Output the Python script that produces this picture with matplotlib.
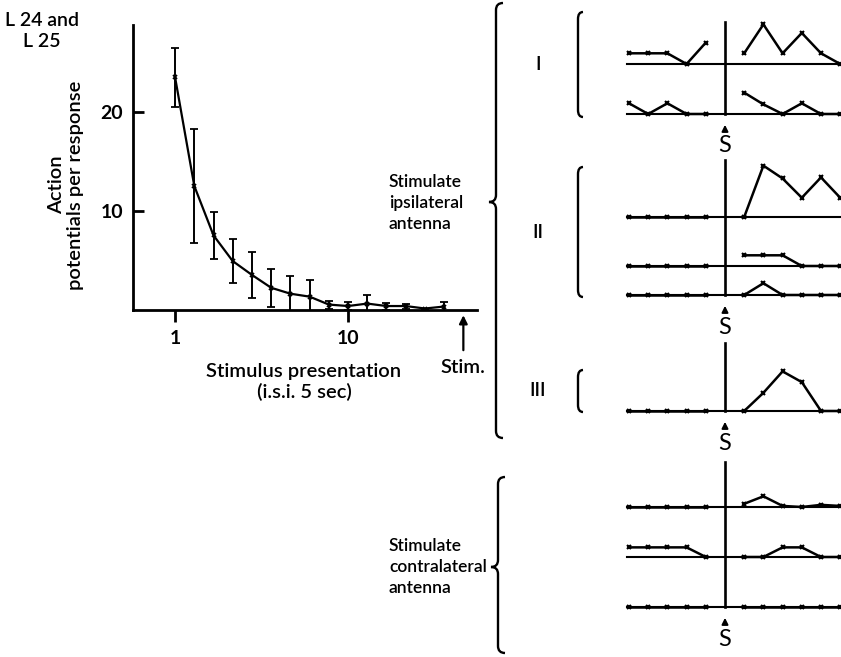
import matplotlib
matplotlib.use("Agg")
import matplotlib.pyplot as plt
from matplotlib.path import Path
from matplotlib.patches import PathPatch

plt.rcParams['font.family'] = ['Lato', 'DejaVu Sans']
plt.rcParams['font.weight'] = 'semibold'

# main graph: habituation of L24/L25 response
presentation = list(range(1, 16))
ap_mean = [23.5, 12.5, 7.5, 4.9, 3.5, 2.2, 1.6, 1.3, 0.5, 0.35, 0.6, 0.35, 0.35, 0.1, 0.3]
ap_err = [3.0, 5.8, 2.4, 2.2, 2.3, 1.9, 1.8, 1.7, 0.4, 0.45, 0.9, 0.35, 0.25, 0.0, 0.5]
stim_at = 16

# small traces: 5 presentations before S, 6 after
pre_x = [-5, -4, -3, -2, -1]
post_x = [1, 2, 3, 4, 5, 6]

ipsi_I_pre = [[1, 1, 1, 0, 2], [1, 0, 1, 0, 0]]
ipsi_I_post = [[1, 3.7, 1, 2.9, 1, 0], [2, 0.9, 0, 1, 0, 0]]
ipsi_II_pre = [[0, 0, 0, 0, 0], [0, 0, 0, 0, 0], [0, 0, 0, 0, 0]]
ipsi_II_post = [[0, 4.8, 3.6, 1.8, 3.7, 1.8], [1, 1, 1, 0, 0, 0], [0, 1.1, 0, 0, 0, 0]]
ipsi_III_pre = [[0, 0, 0, 0, 0]]
ipsi_III_post = [[0, 1.7, 3.7, 2.7, 0, 0]]
contra_pre = [[0, 0, 0, 0, 0], [0.9, 0.9, 0.9, 0.9, 0], [0, 0, 0, 0, 0]]
contra_post = [[0.3, 1.0, 0.1, 0, 0.2, 0.1], [0, 0, 0.9, 0.9, 0, 0], [0, 0, 0, 0, 0, 0]]

W, H = 841, 657
fig = plt.figure(figsize=(W / 100, H / 100), dpi=100)


def ftext(x, y, s, **kw):
    fig.text(x / W, 1 - y / H, s, **kw)


# ---- main axes
ax = fig.add_axes([133 / W, 1 - 309.5 / H, (477 - 133) / W, (309.5 - 25) / H])
ax.set_facecolor('none')
ax.errorbar(presentation, ap_mean, yerr=ap_err, color='k', lw=1.6,
            marker='x', ms=3.5, mew=1.3, capsize=3, elinewidth=1.4, capthick=1.4)
ax.set_xlim(-1.19, 16.71)
ax.set_ylim(0, 28.8)
for s in ['top', 'right']:
    ax.spines[s].set_visible(False)
for s in ['left', 'bottom']:
    ax.spines[s].set_linewidth(2)
ax.set_yticks([10, 20])
ax.set_xticks([1, 10])
ax.tick_params(axis='y', direction='in', length=8, width=2, pad=7, labelsize=14)
ax.tick_params(axis='x', direction='out', length=8.5, width=2, pad=6, labelsize=14)
for lab in ax.get_xticklabels() + ax.get_yticklabels():
    lab.set_fontweight('bold')
ax.annotate('', xy=(stim_at, -0.3), xytext=(stim_at, -4.4), annotation_clip=False,
            arrowprops=dict(arrowstyle='-|>', color='k', lw=1.6, mutation_scale=12))
ax.text(stim_at, -5.9, 'Stim.', ha='center', va='center', fontsize=14.5, clip_on=False)

ftext(304, 382, 'Stimulus presentation\n(i.s.i. 5 sec)', ha='center', va='center',
      fontsize=14.5, linespacing=1.25)
ftext(66, 185, 'Action\npotentials per response', rotation=90, ha='center', va='center',
      fontsize=14.5, linespacing=1.2)
ftext(42, 31, 'L 24 and\nL 25', ha='center', va='center', fontsize=14, linespacing=1.3)

# ---- overlay for braces and labels
ov = fig.add_axes([0, 0, 1, 1], zorder=-1)
ov.set_xlim(0, W)
ov.set_ylim(H, 0)
ov.axis('off')


def brace(x, top, mid, bot, w=7):
    v = [(x + w, top), (x, top), (x, top + w), (x, mid - w), (x, mid), (x - w, mid),
         (x, mid), (x, mid + w), (x, bot - w), (x, bot), (x + w, bot)]
    c = [Path.MOVETO, Path.CURVE3, Path.CURVE3, Path.LINETO, Path.CURVE3, Path.CURVE3,
         Path.CURVE3, Path.CURVE3, Path.LINETO, Path.CURVE3, Path.CURVE3]
    ov.add_patch(PathPatch(Path(v, c), fill=False, lw=1.7, color='k'))


def paren(x, top, bot, w=5):
    v = [(x + w, top), (x, top), (x, top + 7), (x, bot - 7), (x, bot), (x + w, bot)]
    c = [Path.MOVETO, Path.CURVE3, Path.CURVE3, Path.LINETO, Path.CURVE3, Path.CURVE3]
    ov.add_patch(PathPatch(Path(v, c), fill=False, lw=1.7, color='k'))


brace(496, 3, 202, 438)
brace(498, 477, 567, 653)
ov.text(389, 203, 'Stimulate\nipsilateral\nantenna', ha='left', va='center',
        fontsize=12.5, linespacing=1.35)
ov.text(389, 567, 'Stimulate\ncontralateral\nantenna', ha='left', va='center',
        fontsize=12.5, linespacing=1.35)

for lab, top, bot in [('I', 12, 117), ('II', 167, 297), ('III', 370, 412)]:
    paren(578, top, bot)
    ov.text(538, (top + bot) / 2, lab, ha='center', va='center', fontsize=14)

# ---- trace panels
PX = 19.2   # px per presentation
UNIT = 10.7  # px per action potential
S_X = 725


def panel(vtop, bases, pre, post):
    top = vtop - 5
    bot = bases[-1] + 48
    a = fig.add_axes([620 / W, 1 - bot / H, (W - 620) / W, (bot - top) / H])
    a.set_xlim((620 - S_X) / PX, (W - S_X) / PX)
    a.set_ylim(0, (bot - top) / UNIT)
    a.axis('off')
    lev = [(bot - b) / UNIT for b in bases]
    for off, yp, yq in zip(lev, pre, post):
        a.plot([-5.1, 6.2], [off, off], color='k', lw=1.5, clip_on=False)
        a.plot(pre_x, [off + v for v in yp], color='k', lw=1.8, marker='x', ms=3.5, mew=1.5)
        a.plot(post_x, [off + v for v in yq], color='k', lw=1.8, marker='x', ms=3.5, mew=1.5)
    a.plot([0, 0], [(bot - vtop) / UNIT, lev[-1]], color='k', lw=1.9)
    a.annotate('', xy=(0, lev[-1] - 8 / UNIT), xytext=(0, lev[-1] - 20 / UNIT),
               arrowprops=dict(arrowstyle='-|>', color='k', lw=1.4, mutation_scale=9))
    a.text(0, lev[-1] - 32 / UNIT, 'S', ha='center', va='center', fontsize=17,
           fontweight='normal')


panel(22, [64, 114], ipsi_I_pre, ipsi_I_post)
panel(160, [217, 266, 295], ipsi_II_pre, ipsi_II_post)
panel(343, [411], ipsi_III_pre, ipsi_III_post)
panel(462, [507, 557, 607], contra_pre, contra_post)

fig.savefig('out.png', dpi=100)
